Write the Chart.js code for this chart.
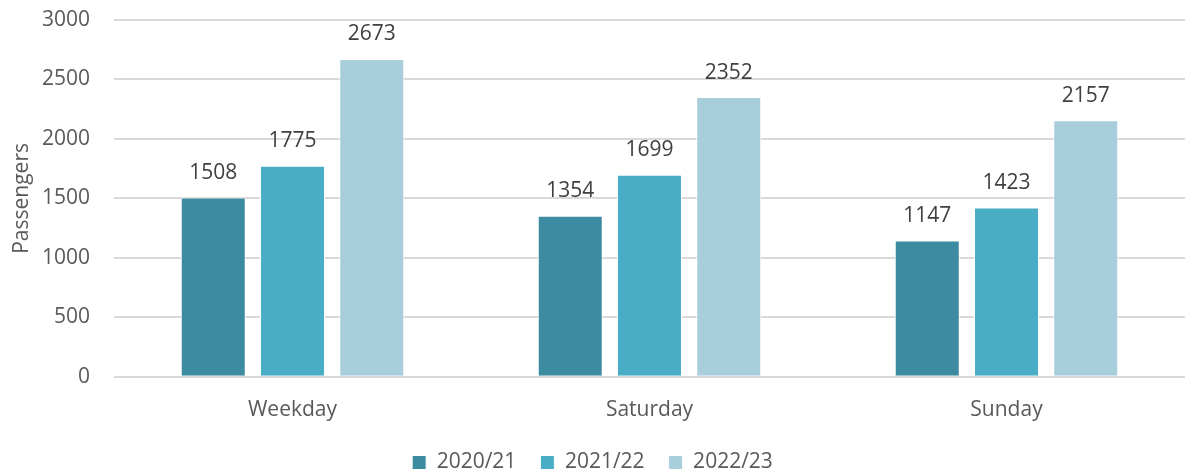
<!DOCTYPE html>
<html>
<head>
<meta charset="utf-8">
<script src="https://cdn.jsdelivr.net/npm/chart.js@4/dist/chart.umd.min.js"></script>
<style>
  html, body { margin: 0; padding: 0; background: #fff; }
  #wrap { width: 1185px; height: 474px; }
</style>
</head>
<body>
<div id="wrap"><canvas id="chart"></canvas></div>
<script>
/* --------------- Data --------------------- */
const categories = ["Weekday", "Saturday", "Sunday"];
const seriesNames = ["2020/21", "2021/22", "2022/23"];
const values2021 = [1508, 1354, 1147];
const values2122 = [1775, 1699, 1423];
const values2223 = [2673, 2352, 2157];
const yTicks = [0, 500, 1000, 1500, 2000, 2500, 3000];
const colors = ["#3C8BA1", "#4AADC6", "#A8CEDC"];

const FONT = "'Open Sans', sans-serif";

/* --------------- Value labels above bars --------------------- */
const valueLabels = {
  id: "valueLabels",
  afterDatasetsDraw(chart) {
    const ctx = chart.ctx;
    ctx.save();
    ctx.font = "21px " + FONT;
    ctx.fillStyle = "#404040";
    ctx.textAlign = "center";
    ctx.textBaseline = "bottom";
    chart.data.datasets.forEach((ds, i) => {
      chart.getDatasetMeta(i).data.forEach((bar, j) => {
        ctx.fillText(ds.data[j], bar.x, bar.y - 14);
      });
    });
    ctx.restore();
  },
};

new Chart(document.getElementById("chart"), {
  type: "bar",
  plugins: [valueLabels],
  data: {
    labels: categories,
    datasets: [values2021, values2122, values2223].map((d, i) => ({
      label: seriesNames[i],
      data: d,
      backgroundColor: colors[i],
      borderColor: "#ffffff",
      borderWidth: 1,
      categoryPercentage: 0.666,
      barPercentage: 0.82,
    })),
  },
  options: {
    responsive: true,
    maintainAspectRatio: false,
    animation: false,
    layout: { padding: { top: 20, right: 0, left: 0, bottom: -9 } },
    plugins: {
      tooltip: { enabled: false },
      legend: {
        position: "bottom",
        labels: {
          font: { family: FONT, size: 21 },
          color: "#595959",
          boxWidth: 14,
          boxHeight: 14,
          padding: 24,
        },
      },
    },
    scales: {
      x: {
        grid: { display: false },
        border: { display: false },
        ticks: { font: { family: FONT, size: 21 }, color: "#595959", padding: 13 },
        afterFit: (axis) => { axis.height -= 8; },
      },
      y: {
        min: 0,
        max: 3000,
        afterBuildTicks: (axis) => { axis.ticks = yTicks.map((v) => ({ value: v })); },
        afterFit: (axis) => { axis.width = 114; axis.paddingTop = 0; },
        grid: { color: "#d9d9d9", lineWidth: 2, drawTicks: false },
        border: { display: false },
        ticks: {
          font: { family: FONT, size: 21 },
          color: "#595959",
          padding: 24,
          callback: (v) => String(v),
        },
        title: {
          display: true,
          text: "Passengers",
          font: { family: FONT, size: 21 },
          color: "#595959",
          padding: { top: 9, bottom: 3 },
        },
      },
    },
  },
});
</script>
</body>
</html>
